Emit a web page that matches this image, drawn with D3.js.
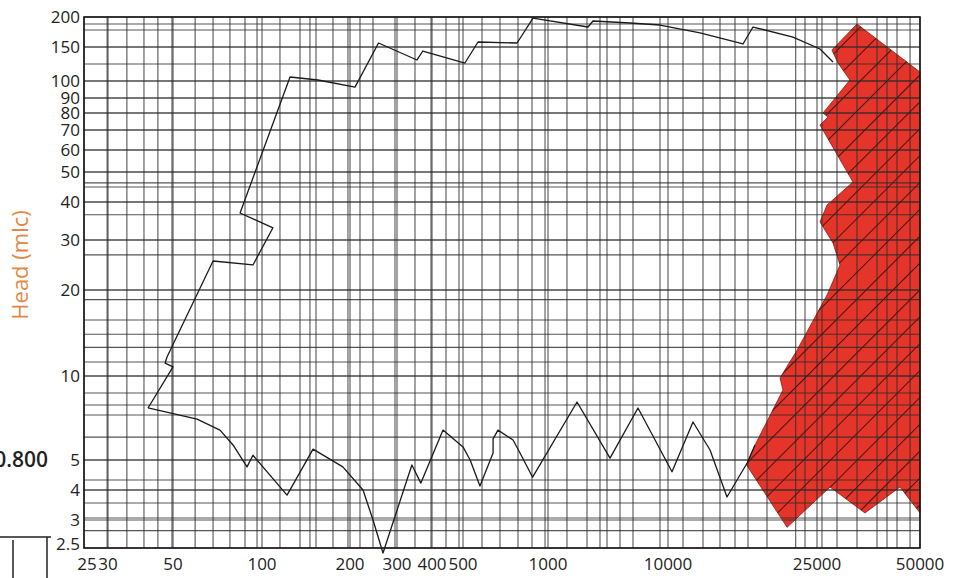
<!DOCTYPE html>
<html>
<head>
<meta charset="utf-8">
<script src="https://cdn.jsdelivr.net/npm/d3@7"></script>
<style>
  body { margin: 0; background: #fff; }
  text { font-family: "Open Sans", sans-serif; fill: #222; }
</style>
</head>
<body>
<div id="chart"></div>
<script>
// tick labels on both axes (the paper is a hand-drawn log grid, not evenly spaced)
var xTicks = [25, 30, 50, 100, 200, 300, 400, 500, 1000, 10000, 25000, 50000];
var yTicks = [2.5, 3, 4, 5, 10, 20, 30, 40, 50, 60, 70, 80, 90, 100, 150, 200];

// extra grid rulings (flow / head units)
var xGrid = [29.8, 34.8, 39.8, 44.4, 49.6, 59.4, 68.3, 77.9, 87.6, 96.2, 115.2, 134.9,
  145.9, 153, 174.9, 196.8, 218, 243.9, 294.8, 347.8, 396.8, 442.4, 485.8, 583.8, 676,
  783, 877.6, 976, 1439, 2113, 2712, 3102, 3981, 5109, 8577, 10966, 12401, 13768, 15098,
  16355, 18381, 21930, 23220, 25850, 28600, 32720, 37440, 40040, 42830, 46760];
var yGrid = [187, 176.6, 150, 122.5, 100, 90, 80, 70, 60, 50, 46.1, 44.7, 40, 36.3, 30,
  26.6, 20, 18.5, 15.7, 14, 12.6, 11.2, 10, 8.69, 7.87, 7.25, 6.04, 5, 4.31, 4, 3.53,
  3.06, 2.8];

// operating envelope, upper edge (flow, head)
var envelopeTop = [[41.1, 7.68], [50, 10.76], [47, 11.1], [47.7, 11.66], [68.3, 25.3],
  [93.2, 24.5], [109, 32.9], [84.3, 36.8], [124.7, 104.9], [155.4, 101.2], [208.8, 96.3],
  [255.8, 155.9], [353.6, 128.5], [371, 143], [508, 123.9], [565, 157.4], [777, 155.9],
  [885, 198], [2154, 181.7], [2371, 192.5], [4822, 188.8], [8577, 185.2], [12180, 171.6],
  [15860, 154.4], [16866, 181.7], [21570, 165], [25510, 146.5], [27840, 125.4]];

// operating envelope, lower edge (flow, head)
var envelopeBottom = [[41.1, 7.68], [60.3, 7.01], [72.1, 6.4], [79.8, 5.66], [89, 4.75],
  [93.2, 5.2], [121.8, 3.81], [149.5, 5.47], [189, 4.75], [223.8, 4], [243.9, 3],
  [265.9, 2.42], [339, 4.82], [365, 4.21], [433, 6.4], [500, 5.57], [530, 5], [574, 4.12],
  [639, 5.3], [639, 5.95], [665, 6.4], [752, 5.9], [796, 5.3], [882, 4.4], [1745, 8.07],
  [3286, 5.08], [5623, 7.68], [10249, 4.58], [11662, 6.84], [12950, 5.43], [14373, 3.74],
  [16270, 4.89], [17075, 5.66]];

// red hatched zone on the right
var redZone = [[32720, 187], [50000, 111.3], [50000, 3.21], [43700, 4.09], [34530, 3.21],
  [27280, 4.09], [20800, 2.86], [16210, 4.82], [17075, 5.66], [20280, 8.91], [19914, 9.84],
  [22100, 12.3], [26750, 19.2], [29180, 24.5], [27840, 29.3], [25510, 34.4], [26750, 39.1],
  [31840, 46.4], [25510, 72.8], [26930, 77.5], [26030, 80], [31200, 101.2], [28790, 123.9],
  [27640, 144.7]];

var width = 958, height = 578;

// pixel placement of each printed tick on the sheet
var xTickPx = [84, 108, 173, 262, 350, 397, 432, 463, 548, 668, 817, 920];
var yTickPx = [548, 520, 490, 460, 376, 290, 240, 202, 172, 150, 130, 113, 98, 81, 47, 17];

var x = d3.scaleLog().domain(xTicks).range(xTickPx);
var y = d3.scaleLog().domain(yTicks).range(yTickPx);

var svg = d3.select('#chart').append('svg')
  .attr('width', width)
  .attr('height', height);

var x0 = x(25), x1 = x(50000), y0 = y(200), y1 = y(2.5);

// hatch for the red zone
var defs = svg.append('defs');
defs.append('pattern')
  .attr('id', 'hatch')
  .attr('patternUnits', 'userSpaceOnUse')
  .attr('width', 19)
  .attr('height', 19)
  .attr('patternTransform', 'rotate(-45)')
  .append('line')
  .attr('x1', 0).attr('y1', 0.5)
  .attr('x2', 19).attr('y2', 0.5)
  .attr('stroke', '#4a120c')
  .attr('stroke-width', 1.1);

var area = d3.line()
  .x(d => x(d[0]))
  .y(d => y(d[1]));

// red zone
svg.append('path')
  .datum(redZone)
  .attr('d', area.curve(d3.curveLinearClosed))
  .attr('fill', '#e5352b')
  .attr('stroke', '#8a1c14')
  .attr('stroke-width', 0.8);
svg.append('path')
  .datum(redZone)
  .attr('d', area)
  .attr('fill', 'url(#hatch)');

// grid
var grid = svg.append('g').attr('class', 'grid');
grid.selectAll('.vx')
  .data(xTicks.concat(xGrid))
  .join('line')
  .attr('class', 'vx')
  .attr('x1', d => x(d)).attr('x2', d => x(d))
  .attr('y1', y0).attr('y2', y1)
  .attr('stroke', '#2b2b2b')
  .attr('stroke-opacity', 0.8)
  .attr('stroke-width', 1.1);
grid.selectAll('.hy')
  .data(yTicks.concat(yGrid))
  .join('line')
  .attr('class', 'hy')
  .attr('x1', x0).attr('x2', x1)
  .attr('y1', d => y(d)).attr('y2', d => y(d))
  .attr('stroke', '#2b2b2b')
  .attr('stroke-opacity', 0.8)
  .attr('stroke-width', 1.1);

// frame
svg.append('rect')
  .attr('x', x0).attr('y', y0)
  .attr('width', x1 - x0).attr('height', y1 - y0)
  .attr('fill', 'none')
  .attr('stroke', '#1a1a1a')
  .attr('stroke-width', 1.6);

// envelope
var line = d3.line().x(d => x(d[0])).y(d => y(d[1]));
[envelopeTop, envelopeBottom].forEach(function (pts) {
  svg.append('path')
    .datum(pts)
    .attr('d', line)
    .attr('fill', 'none')
    .attr('stroke', '#1a1a1a')
    .attr('stroke-width', 1.3)
    .attr('stroke-linejoin', 'round');
});

// y tick labels
svg.append('g')
  .selectAll('text')
  .data(yTicks)
  .join('text')
  .attr('x', x0 - 4)
  .attr('y', d => y(d) - (d === 2.5 ? 4 : 0))
  .attr('dy', '0.35em')
  .attr('text-anchor', 'end')
  .style('font-size', '17px')
  .text(d => d);

// x tick labels
svg.append('g')
  .selectAll('text')
  .data(xTicks)
  .join('text')
  .attr('x', d => x(d) + (d === 25 ? 3 : 0))
  .attr('y', y1 + 16)
  .attr('dy', '0.35em')
  .attr('text-anchor', 'middle')
  .style('font-size', '17px')
  .text(d => d);

// axis title
svg.append('text')
  .attr('transform', 'translate(28,' + y(24.5) + ') rotate(-90)')
  .attr('text-anchor', 'middle')
  .style('font-size', '22px')
  .style('fill', '#e28745')
  .text('Head (mlc)');

// fragment of a neighbouring panel on the left
svg.append('text')
  .attr('x', 48)
  .attr('y', y(5))
  .attr('dy', '0.35em')
  .attr('text-anchor', 'end')
  .style('font-size', '21px')
  .style('font-weight', 600)
  .text('0.800');
svg.append('path')
  .attr('d', 'M-2,537 H47 V580 M47,537 H51 M13,540 V580')
  .attr('fill', 'none')
  .attr('stroke', '#222')
  .attr('stroke-width', 1.5);
</script>
</body>
</html>
